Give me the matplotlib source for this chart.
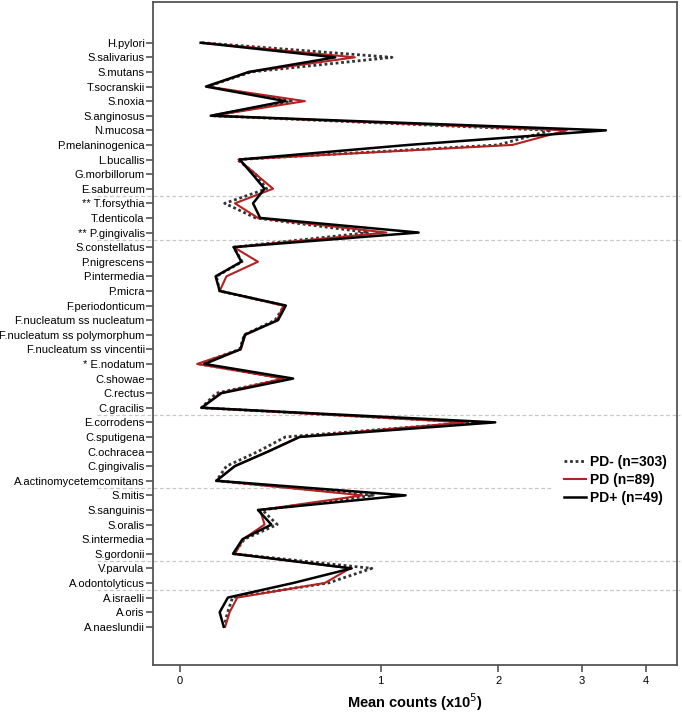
import numpy as np
import matplotlib
matplotlib.use("Agg")
import matplotlib.pyplot as plt
import matplotlib.transforms as mtransforms

plt.rcParams["font.family"] = ["Liberation Sans", "DejaVu Sans"]

species = ["H.pylori", "S.salivarius", "S.mutans", "T.socranskii", "S.noxia",
           "S.anginosus", "N.mucosa", "P.melaninogenica", "L.bucallis",
           "G.morbillorum", "E.saburreum", "** T.forsythia", "T.denticola",
           "** P.gingivalis", "S.constellatus", "P.nigrescens", "P.intermedia",
           "P.micra", "F.periodonticum", "F.nucleatum ss nucleatum",
           "F.nucleatum ss polymorphum", "F.nucleatum ss vincentii",
           "* E.nodatum", "C.showae", "C.rectus", "C.gracilis", "E.corrodens",
           "C.sputigena", "C.ochracea", "C.gingivalis",
           "A.actinomycetemcomitans", "S.mitis", "S.sanguinis", "S.oralis",
           "S.intermedia", "S.gordonii", "V.parvula", "A.odontolyticus",
           "A.israelli", "A.oris", "A.naeslundii"]

pd_minus = [0.08, 1.08, 0.28, 0.10, 0.47, 0.12, 2.6, 2.0, 0.22, 0.30, 0.35,
            0.168, 0.30, 0.92, 0.205, 0.24, 0.135, 0.148, 0.435, 0.39, 0.25,
            0.23, 0.07, 0.44, 0.135, 0.078, 1.75, 0.44, 0.31, 0.175, 0.135,
            0.95, 0.33, 0.40, 0.25, 0.205, 0.94, 0.67, 0.20, 0.18, 0.165]
pd_mid = [0.08, 0.83, 0.27, 0.10, 0.54, 0.12, 2.8, 2.15, 0.225, 0.30, 0.38,
          0.21, 0.31, 1.04, 0.205, 0.31, 0.175, 0.148, 0.43, 0.40, 0.255,
          0.235, 0.062, 0.43, 0.15, 0.08, 1.68, 0.51, 0.355, 0.21, 0.135,
          0.88, 0.32, 0.34, 0.245, 0.21, 0.80, 0.65, 0.22, 0.188, 0.17]
pd_plus = [0.075, 0.71, 0.27, 0.095, 0.44, 0.113, 3.35, 1.2, 0.23, 0.285, 0.34,
           0.288, 0.32, 1.28, 0.205, 0.237, 0.132, 0.148, 0.442, 0.404, 0.252,
           0.233, 0.09, 0.479, 0.155, 0.078, 1.97, 0.513, 0.357, 0.209, 0.135,
           1.18, 0.31, 0.372, 0.242, 0.202, 0.81, 0.48, 0.181, 0.148, 0.164]

series_labels = ["PD- (n=303)", "PD (n=89)", "PD+ (n=49)"]
x_ticks = [0, 1, 2, 3, 4]
separators = [10.5, 13.5, 25.5, 30.5, 35.5, 37.5]

y = np.arange(len(species))

fig = plt.figure(figsize=(6.82, 7.14), dpi=100)
ax = fig.add_axes([0.2243, 0.0686, 0.9927 - 0.2243, 0.9972 - 0.0686])

# x axis is drawn on a log(1+x) scale like the original
ax.set_xscale("function", functions=(np.log1p, np.expm1))

l1, = ax.plot(pd_minus, y, color="#333333", lw=2, linestyle=(0, (1, 1)))
l2, = ax.plot(pd_mid, y, color="#b22222", lw=1.5)
l3, = ax.plot(pd_plus, y, color="black", lw=1.8)

ax.set_xlim(-0.088, 4.56)
ax.set_ylim(len(species) - 1 + 2.62, -2.79)
ax.set_xticks(x_ticks)
ax.set_xticklabels([str(t) for t in x_ticks], fontsize=8)
ax.set_yticks(y)
ax.set_yticklabels(species, fontsize=8)
ax.tick_params(axis="both", direction="out", length=5, width=1.2, color="#555555")
ax.tick_params(axis="x", pad=3)
ax.tick_params(axis="y", pad=1)
for s in ax.spines.values():
    s.set_color("#555555")
    s.set_linewidth(1.3)

# dashed group separators, reaching into the label area
trans = mtransforms.blended_transform_factory(ax.transAxes, ax.transData)
for yy in separators:
    x_end = 0.759 if yy == 30.5 else 1.006
    ax.plot([-0.106, x_end], [yy, yy], transform=trans, clip_on=False,
            color="#c8c8c8", lw=0.9, linestyle=(0, (3, 2)), zorder=0)

ax.set_xlabel("Mean counts (x10$^5$)", fontsize=10.5, fontweight="bold", labelpad=4)

leg = ax.legend([l1, l2, l3], series_labels, loc="center right",
                bbox_to_anchor=(1.005, 0.279), frameon=False, handlelength=1.6,
                handletextpad=0.3, labelspacing=0.3,
                prop={"size": 10, "weight": "bold"})

plt.savefig("out.png", dpi=100)
